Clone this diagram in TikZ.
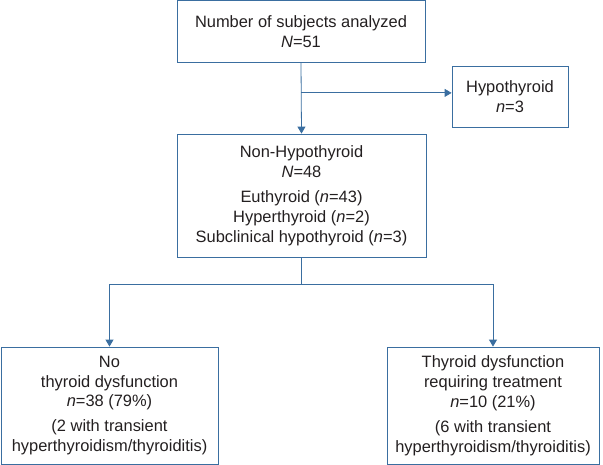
\documentclass[tikz,border=0pt]{standalone}
\usepackage{fontspec}
\setmainfont{Liberation Sans}
\usetikzlibrary{arrows.meta}
\usetikzlibrary{calc}

\definecolor{flowblue}{RGB}{58,110,160}
\definecolor{flowtext}{RGB}{35,31,32}

\tikzset{
  flowbox/.style={draw=flowblue, line width=0.8pt, align=center, inner sep=0pt,
    text=flowtext, font=\fontsize{16.5}{20}\selectfont},
  link/.style={draw=flowblue, line width=0.8pt},
  arrow/.style={link, -{Triangle[width=8pt,length=7pt]}}
}

\begin{document}
\begin{tikzpicture}[x=1bp, y=-1bp]
    \useasboundingbox (0,0) rectangle (603,465);
    % boxes
    \node[flowbox, minimum width=248bp, minimum height=62bp] (total) at (301,31.5)
        {Number of subjects analyzed\\\textit{N}=51};
    \node[flowbox, minimum width=116bp, minimum height=61bp] (hypo) at (510,96.5)
        {Hypothyroid\\\textit{n}=3};
    \node[flowbox, minimum width=249bp, minimum height=123bp] (nonhypo) at (301.5,195.5)
        {Non-Hypothyroid\\\textit{N}=48\\[5bp]Euthyroid (\textit{n}=43)\\Hyperthyroid (\textit{n}=2)\\Subclinical hypothyroid (\textit{n}=3)};
    \node[flowbox, minimum width=217bp, minimum height=117bp] (nodys) at (109.5,405.5)
        {No\\thyroid dysfunction\\\textit{n}=38 (79\%)\\[5bp](2 with transient\\hyperthyroidism/thyroiditis)};
    \node[flowbox, minimum width=212bp, minimum height=117bp] (dys) at (493,405.5)
        {Thyroid dysfunction\\requiring treatment\\\textit{n}=10 (21\%)\\[5bp](6 with transient\\hyperthyroidism/thyroiditis)};
    % split points
    \coordinate (split1) at ($(total.south)+(0,30)$);
    \coordinate (split2) at ($(nonhypo.south)+(0,27)$);
    % connectors
    \draw[arrow] (total.south) -- (nonhypo.north);
    \draw[arrow] (split1) -- (split1 -| hypo.west);
    \draw[link] (nonhypo.south) -- (split2);
    \draw[arrow] (split2) -| (nodys.north);
    \draw[arrow] (split2) -| (dys.north);
\end{tikzpicture}
\end{document}
